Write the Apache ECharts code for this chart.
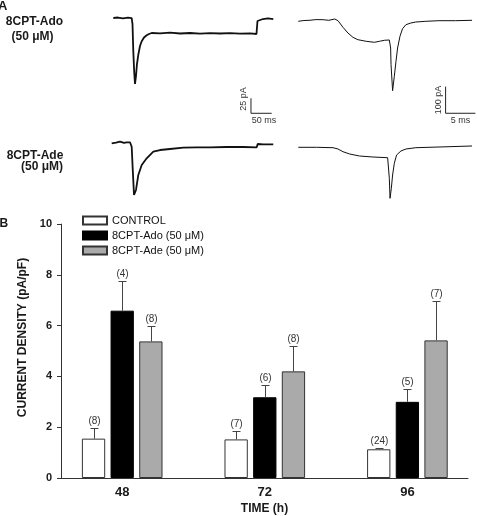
<!DOCTYPE html>
<html><head><meta charset="utf-8">
<script src="https://cdn.jsdelivr.net/npm/echarts@6/dist/echarts.min.js"></script>
<style>html,body{margin:0;padding:0;background:#fff}#c{width:477px;height:516px}</style>
</head><body><div id="c"></div>
<script>
// ---------- Panel B data ----------
const timeCats = [48, 72, 96];
const seriesNames = ['CONTROL', '8CPT-Ado (50 μM)', '8CPT-Ade (50 μM)'];
const controlMean = [1.55, 1.52, 1.13];
const controlSem  = [0.41, 0.33, 0.05];
const adoMean = [6.59, 3.18, 3.00];
const adoSem  = [1.15, 0.47, 0.50];
const adeMean = [5.38, 4.20, 5.42];
const adeSem  = [0.59, 0.98, 1.57];
const controlN = [8, 7, 24];
const adoN = [4, 6, 5];
const adeN = [8, 8, 7];

// ---------- Panel A traces: [time ms, current pA] ----------
const traceAdoSlow = [[0,0],[11.4,0.8],[23.4,-0.5],[35.5,0.5],[44.4,-0.3],[46.4,-10],[48.3,-55.5],[50.5,-90],[52.4,-110],[54.8,-96.7],[57.2,-76.7],[60.4,-61.2],[64.5,-46.7],[68.6,-38.8],[74.2,-32.5],[80.7,-28.8],[86.2,-26.7],[92.8,-25],[112.8,-25.5],[137,-24.5],[161.4,-25.8],[185.3,-25],[209.4,-26],[233.6,-25.2],[257.7,-25.8],[281.9,-25.3],[306,-26.2],[330.2,-25.7],[345.9,-26.7],[348.3,-5],[350.7,-2.5],[361.6,-1.7],[373.7,-0.5],[386.5,-1.7]];
const traceAdoFast = [[0,-4.9],[0.95,-1.9],[1.95,-1.1],[2.95,1.5],[4.17,1.1],[5.12,-1.1],[6.12,3.7],[6.67,-2.6],[7.5,-27.3],[8.33,-48.7],[9.17,-64.8],[10,-73.8],[11.4,-79.8],[12.78,-83.5],[13.62,-79.8],[14.45,-76],[15.28,-74.9],[15.5,-104.9],[15.57,-167.4],[15.83,-264.8],[16.12,-210.9],[16.4,-154.7],[16.67,-104.9],[17.07,-61],[17.5,-32.6],[18.07,-17.6],[18.9,-11.2],[19.73,-7.5],[21.4,-4.9],[23.6,-2.6],[26.4,-2.6],[29.17,-1.1]];
const traceAdeSlow = [[0,-0.5],[10.4,0.8],[20,2.2],[29.7,0.3],[36.2,1.2],[44.2,1.2],[48.3,-6.2],[50.7,-42.2],[53.9,-86.7],[58.7,-78.3],[64.3,-53.3],[72.5,-36.7],[84.5,-25.5],[100.5,-14.5],[116.7,-11.7],[140.8,-10],[172.9,-7.8],[205.3,-7.2],[237.4,-7.2],[277.8,-6.7],[317.9,-6.7],[350.2,-7.2],[352.7,-1.7],[366.2,-2.2],[390.3,-2.2]];
const traceAdeFast = [[0,0],[3.07,0],[5.83,-1.5],[6.67,-6.4],[7.5,-16.5],[8.62,-25.1],[10.28,-32.6],[12.5,-36.3],[15,-39],[15.17,-41.2],[15.28,-116.1],[15.4,-191],[15.62,-153.6],[15.83,-103.7],[16.12,-59.9],[16.5,-28.8],[17.23,-13.9],[18.07,-6.4],[19.73,-1.5],[23.62,1.1],[29.17,4.9]];
// scale bars: [corner time ms, corner current pA, length ms, height pA]
const scaleSlow = [332.6, -158.8, 50, 25];
const scaleFast = [24.73, -349.4, 5, 100];

// ---------- layout ----------
const BAR_W = 23.3, BAR_GAP = 0.23, BAR_STEP = BAR_W * (1 + BAR_GAP);
const FONT = 'Liberation Sans, Arial, sans-serif';
const INK = '#1a1a1a';

function hidden(min, max, idx) {
  return { type: 'value', gridIndex: idx, min: min, max: max, show: false, splitLine: {show: false} };
}
function traceSeries(data, idx, w) {
  return { type: 'line', xAxisIndex: idx, yAxisIndex: idx, data: data, showSymbol: false, symbol: 'none',
    lineStyle: {color: '#111', width: w}, silent: true, z: 3 };
}
function scaleSeries(sb, idx) {
  return { type: 'line', xAxisIndex: idx, yAxisIndex: idx, showSymbol: false, symbol: 'none', silent: true,
    data: [[sb[0], sb[1] + sb[3]], [sb[0], sb[1]], [sb[0] + sb[2], sb[1]]],
    lineStyle: {color: '#222', width: 1} };
}
function barSeries(name, means, fill, border) {
  return { type: 'bar', name: name, xAxisIndex: 4, yAxisIndex: 4, barWidth: BAR_W, barGap: (BAR_GAP*100)+'%',
    data: timeCats.map((t, i) => [t, means[i]]),
    itemStyle: {color: fill, borderColor: border, borderWidth: 1}, z: 2, silent: true };
}
function errSeries(idx, means, sems, ns) {
  return { type: 'custom', xAxisIndex: 4, yAxisIndex: 4, z: 5, silent: true,
    data: timeCats.map((t, i) => [t, means[i], means[i] + sems[i], ns[i]]),
    renderItem: function (params, api) {
      const off = (idx - 1) * BAR_STEP;
      const base = api.coord([api.value(0), api.value(1)]);
      const top = api.coord([api.value(0), api.value(2)]);
      const x = Math.round(base[0] + off) + 0.5;
      const yt = Math.round(top[1]) + 0.5;
      return { type: 'group', children: [
        {type: 'line', shape: {x1: x, y1: base[1], x2: x, y2: yt}, style: {stroke: '#444', lineWidth: 1}},
        {type: 'line', shape: {x1: x - 4, y1: yt, x2: x + 4, y2: yt}, style: {stroke: '#444', lineWidth: 1}},
        {type: 'text', style: {text: '(' + api.value(3) + ')', x: x, y: yt - 7, align: 'center', verticalAlign: 'middle',
          font: '10px ' + FONT, fill: '#333'}}
      ]};
    }
  };
}
function txt(text, x, y, size, bold, align, rot, color) {
  return { type: 'text', x: x, y: y, rotation: rot || 0, silent: true,
    style: { text: text, font: (bold ? 'bold ' : '') + size + 'px ' + FONT, fill: color || INK,
      align: align || 'center', verticalAlign: 'middle' } };
}

const chart = echarts.init(document.getElementById('c'), null, {renderer: 'canvas'});
chart.setOption({
  animation: false,
  backgroundColor: '#fff',
  grid: [
    {left: 113.3, top: 10, width: 165, height: 106},
    {left: 298.3, top: 10, width: 180, height: 106},
    {left: 111.7, top: 135, width: 165, height: 70},
    {left: 298.3, top: 135, width: 180, height: 70},
    {left: 61, top: 224.1, width: 407, height: 254.6}
  ],
  xAxis: [
    hidden(0, 398.6, 0), hidden(0, 30, 1), hidden(0, 398.6, 2), hidden(0, 30, 3),
    { type: 'value', gridIndex: 4, min: 37.7, max: 106.2, splitLine: {show: false},
      axisLine: {show: true, lineStyle: {color: '#333', width: 1}},
      axisTick: {show: false},
      axisLabel: {customValues: timeCats, margin: 8, color: INK, fontSize: 13, fontWeight: 'bold', fontFamily: FONT},
      name: 'TIME (h)', nameLocation: 'middle', nameGap: 25,
      nameTextStyle: {color: INK, fontSize: 12, fontWeight: 'bold', fontFamily: FONT} }
  ],
  yAxis: [
    hidden(-163.33, 13.33, 0), hidden(-359.6, 37.45, 1), hidden(-103.33, 13.33, 2), hidden(-216.1, 46.07, 3),
    { type: 'value', gridIndex: 4, min: 0, max: 10, interval: 2, splitLine: {show: false},
      axisLine: {show: true, lineStyle: {color: '#333', width: 1}},
      axisTick: {show: true, length: 4, lineStyle: {color: '#333'}},
      axisLabel: {margin: 9, color: INK, fontSize: 11, fontWeight: 'bold', fontFamily: FONT} }
  ],
  legend: {
    data: seriesNames, orient: 'vertical', left: 82, top: 215, padding: 0, itemWidth: 24, itemHeight: 8, itemGap: 4,
    icon: 'rect', selectedMode: false,
    textStyle: {color: '#111', fontSize: 11, fontFamily: FONT, lineHeight: 11}
  },
  series: [
    traceSeries(traceAdoSlow, 0, 1.8),
    traceSeries(traceAdoFast, 1, 1),
    traceSeries(traceAdeSlow, 2, 1.8),
    traceSeries(traceAdeFast, 3, 1),
    scaleSeries(scaleSlow, 0),
    scaleSeries(scaleFast, 1),
    barSeries(seriesNames[0], controlMean, '#ffffff', '#333333'),
    barSeries(seriesNames[1], adoMean, '#000000', '#000000'),
    barSeries(seriesNames[2], adeMean, '#aaaaaa', '#333333'),
    errSeries(0, controlMean, controlSem, controlN),
    errSeries(1, adoMean, adoSem, adoN),
    errSeries(2, adeMean, adeSem, adeN)
  ],
  graphic: [
    txt('A', -2, 6, 13, true, 'left'),
    txt('B', -0.5, 223.5, 12, true, 'left'),
    txt('8CPT-Ado', 34.5, 22, 12, true),
    txt('(50 μM)', 32.5, 36.7, 12, true),
    txt('8CPT-Ade', 35, 155.5, 12, true),
    txt('(50 μM)', 63, 166.7, 12, true, 'right'),
    txt('25 pA', 243.5, 99, 9, false, 'center', Math.PI / 2, '#333'),
    txt('50 ms', 264, 121, 9, false, 'center', 0, '#333'),
    txt('100 pA', 439, 100, 9, false, 'center', Math.PI / 2, '#333'),
    txt('5 ms', 460.5, 121, 9, false, 'center', 0, '#333'),
    txt('CURRENT DENSITY (pA/pF)', 22.5, 337.5, 12, true, 'center', Math.PI / 2)
  ]
});
</script></body></html>
